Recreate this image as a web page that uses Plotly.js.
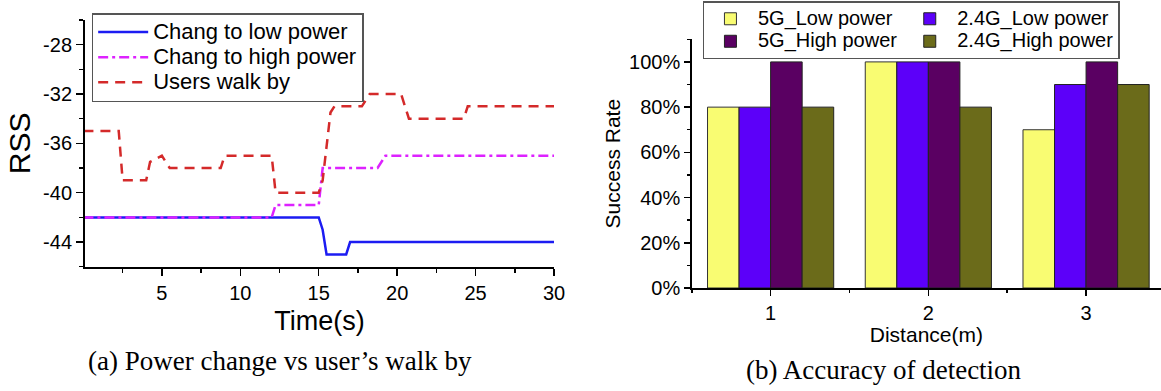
<!DOCTYPE html>
<html>
<head>
<meta charset="utf-8">
<script src="https://cdn.plot.ly/plotly-3.0.1.min.js"></script>
<style>html,body{margin:0;padding:0;background:#fff;}#chart{width:1161px;height:391px;}</style>
</head>
<body>
<div id="chart"></div>
<script>
// ---- Data: (a) RSS over time ----
const timeLow  = [0, 15, 15.25, 15.5, 16.75, 17, 30];
const rssLow   = [-42, -42, -43, -45, -45, -44, -44];
const timeHigh = [0, 12, 12.25, 15, 15.25, 18.75, 19.25, 30];
const rssHigh  = [-42, -42, -41, -41, -38, -38, -37, -37];
const timeWalk = [0, 2.25, 2.5, 4, 4.25, 5, 5.5, 8.75, 9, 12, 12.25, 15, 15.25, 15.5, 15.75, 16, 17.75, 18.25, 20.25, 20.75, 24.25, 24.5, 30];
const rssWalk  = [-35, -35, -39, -39, -37.5, -37, -38, -38, -37, -37, -40, -40, -39, -36, -33.5, -33, -33, -32, -32, -34, -34, -33, -33];
const rssTicks = [-44, -40, -36, -32, -28];
const timeTicks = [5, 10, 15, 20, 25, 30];
const lineNames = ['Chang to low power', 'Chang to high power', 'Users walk by'];

// ---- Data: (b) detection accuracy ----
const distances = [1, 2, 3];
const g5Low   = [80, 100, 70];
const g24Low  = [80, 100, 90];
const g5High  = [100, 100, 100];
const g24High = [80, 80, 90];
const rateTicks = [0, 20, 40, 60, 80, 100];
const barNames = ['5G_Low power', '2.4G_Low power', '5G_High power', '2.4G_High power'];

const FONT = 'Arial, "Liberation Sans", sans-serif';
const SERIF = '"Times New Roman", "Liberation Serif", serif';
// legend labels drawn larger than the legend's row pitch font
const big = (t, px) => '<span style="font-size:' + px + 'px">' + t + '</span>';

const traces = [
  {x: timeLow, y: rssLow, type: 'scatter', mode: 'lines', name: big(lineNames[0], 22),
   line: {color: '#1c1cf2', width: 2.5}, xaxis: 'x', yaxis: 'y', legend: 'legend'},
  {x: timeHigh, y: rssHigh, type: 'scatter', mode: 'lines', name: big(lineNames[1], 22),
   line: {color: '#dd22ff', width: 2.5, dash: '10px,4px,3px,4px'}, xaxis: 'x', yaxis: 'y', legend: 'legend'},
  {x: timeWalk, y: rssWalk, type: 'scatter', mode: 'lines', name: big(lineNames[2], 22),
   line: {color: '#d42a2a', width: 2.5, dash: '10px,7px'}, xaxis: 'x', yaxis: 'y', legend: 'legend'},
  {x: distances, y: g5Low, type: 'bar', name: big(barNames[0], 20), legendgroup: 'g5',
   marker: {color: '#f9fc72', line: {color: '#333', width: 1}}, xaxis: 'x2', yaxis: 'y2', legend: 'legend2'},
  {x: distances, y: g24Low, type: 'bar', name: big(barNames[1], 20), legendgroup: 'g24',
   marker: {color: '#5c00f9', line: {color: '#222', width: 1}}, xaxis: 'x2', yaxis: 'y2', legend: 'legend2'},
  {x: distances, y: g5High, type: 'bar', name: big(barNames[2], 20), legendgroup: 'g5',
   marker: {color: '#5a0062', line: {color: '#222', width: 1}}, xaxis: 'x2', yaxis: 'y2', legend: 'legend2'},
  {x: distances, y: g24High, type: 'bar', name: big(barNames[3], 20), legendgroup: 'g24',
   marker: {color: '#6b6b1a', line: {color: '#222', width: 1}}, xaxis: 'x2', yaxis: 'y2', legend: 'legend2'}
];

const layout = {
  width: 1161, height: 391,
  margin: {l: 85, r: 0, t: 20, b: 102.7, autoexpand: false},
  paper_bgcolor: '#fff', plot_bgcolor: '#fff',
  font: {family: FONT, color: '#000'},
  showlegend: true,
  barmode: 'group', bargap: 0.2, bargroupgap: 0,
  xaxis: {
    domain: [0, 0.4359], range: [0.1, 30],
    tickmode: 'array', tickvals: timeTicks, ticktext: timeTicks.map(String),
    showgrid: false, zeroline: false, showline: true, linecolor: '#000', linewidth: 2,
    ticks: 'outside', ticklen: 7, tickwidth: 1.5, tickcolor: '#000',
    minor: {tickmode: 'linear', tick0: 0, dtick: 2.5, ticks: 'outside', ticklen: 4, tickwidth: 1.5, tickcolor: '#000', showgrid: false},
    tickfont: {size: 20, family: FONT},
    title: {text: 'Time(s)', font: {size: 27, family: FONT}, standoff: 8}
  },
  yaxis: {
    domain: [0.0794, 1], range: [-46, -26],
    tickmode: 'array', tickvals: rssTicks, ticktext: rssTicks.map(String),
    showgrid: false, zeroline: false, showline: true, linecolor: '#000', linewidth: 2,
    ticks: 'outside', ticklen: 7, tickwidth: 1.5, tickcolor: '#000',
    minor: {tickmode: 'linear', tick0: -46, dtick: 2, ticks: 'outside', ticklen: 4, tickwidth: 1.5, tickcolor: '#000', showgrid: false},
    tickfont: {size: 20, family: FONT},
    title: {text: 'RSS', font: {size: 30, family: FONT}, standoff: 4}
  },
  xaxis2: {
    domain: [0.5639, 1], range: [0.5, 3.475], anchor: 'y2',
    tickmode: 'array', tickvals: distances, ticktext: distances.map(String),
    showgrid: false, zeroline: false, showline: true, linecolor: '#000', linewidth: 1.5,
    ticks: 'outside', ticklen: 6, tickwidth: 1.5, tickcolor: '#000',
    minor: {tickmode: 'linear', tick0: 0.5, dtick: 1, ticks: 'outside', ticklen: 3, tickwidth: 1.5, tickcolor: '#000', showgrid: false},
    tickfont: {size: 20, family: FONT},
    title: {text: 'Distance(m)', font: {size: 21, family: FONT}, standoff: 0}
  },
  yaxis2: {
    domain: [0, 0.928], range: [0, 110], anchor: 'x2',
    tickmode: 'array', tickvals: rateTicks, ticktext: rateTicks.map(v => v + '%'),
    showgrid: false, zeroline: false, showline: true, linecolor: '#000', linewidth: 1.5,
    ticks: 'outside', ticklen: 6, tickwidth: 1.5, tickcolor: '#000',
    minor: {tickmode: 'linear', tick0: 0, dtick: 10, ticks: 'outside', ticklen: 3, tickwidth: 1.5, tickcolor: '#000', showgrid: false},
    tickfont: {size: 20, family: FONT},
    title: {text: 'Success Rate', font: {size: 21, family: FONT}, standoff: 2}
  },
  legend: {
    x: 0.0062, y: 1.0261, xanchor: 'left', yanchor: 'top', orientation: 'v',
    bgcolor: '#fff', bordercolor: '#555', borderwidth: 1.5,
    font: {size: 17, family: FONT}, tracegroupgap: 0, itemwidth: 50
  },
  legend2: {
    x: 0.5743, y: 1.0708, xanchor: 'left', yanchor: 'top', orientation: 'h',
    traceorder: 'grouped', tracegroupgap: 0, itemwidth: 45,
    bgcolor: '#fff', bordercolor: '#555', borderwidth: 1.5,
    font: {size: 15, family: FONT}
  },
  annotations: [
    {text: '(a) Power change vs user\u2019s walk by', xref: 'paper', yref: 'paper',
     x: 0.1808, y: -0.271, xanchor: 'center', yanchor: 'middle', showarrow: false,
     font: {size: 27, family: SERIF, color: '#000'}},
    {text: '(b) Accuracy of detection', xref: 'paper', yref: 'paper',
     x: 0.7426, y: -0.305, xanchor: 'center', yanchor: 'middle', showarrow: false,
     font: {size: 27, family: SERIF, color: '#000'}}
  ]
};

Plotly.newPlot('chart', traces, layout, {displayModeBar: false, staticPlot: true});
</script>
</body>
</html>
